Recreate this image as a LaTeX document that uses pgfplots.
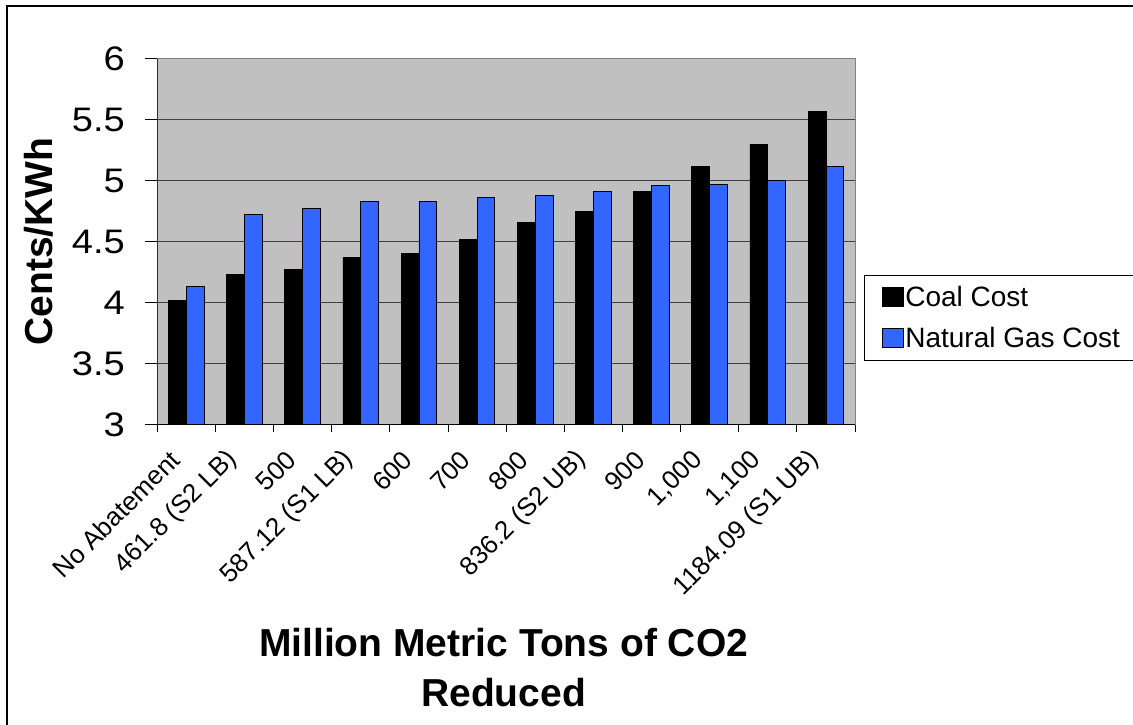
\documentclass[border=0pt]{standalone}
\usepackage{pgfplots}
\pgfplotsset{compat=1.18}
\usepackage{fontspec}
\setmainfont{Liberation Sans}
\newfontfamily\tickfont[FakeStretch=1.12]{Liberation Sans}
\definecolor{plotbg}{HTML}{C0C0C0}
\definecolor{gasblue}{HTML}{3366FF}
\definecolor{bordergrey}{HTML}{808080}
\begin{document}
\begin{tikzpicture}
\path[use as bounding box] (-157.3pt,-300.7pt) rectangle (975.7pt,424.3pt);
\draw[line width=1.5pt] (-150.3pt,-310pt) -- (-150.3pt,418.3pt) -- (985pt,418.3pt);
\begin{axis}[
  scale only axis, width=697.7pt, height=365.3pt,
  at={(0pt,0pt)}, anchor=south west,
  ybar=0pt, bar width=17.8pt,
  xmin=-0.5, xmax=11.5, ymin=3, ymax=6,
  axis background/.style={fill=plotbg},
  axis line style={bordergrey, line width=1pt},
  ytick={3,3.5,4,4.5,5,5.5,6},
  xtick={0,...,11},
  xticklabels={No Abatement,461.8 (S2 LB),500,587.12 (S1 LB),600,700,800,836.2 (S2 UB),900,{1,000},{1,100},1184.09 (S1 UB)},
  minor xtick={-0.5,0.5,...,11.5},
  major x tick style={draw=none},
  tick align=outside, major tick length=12pt, minor tick length=8pt,
  xtick pos=left, ytick pos=left,
  tick style={black, line width=1pt},
  ymajorgrids, major grid style={black!75, line width=1pt},
  /pgf/number format/assume math mode=true,
  yticklabel style={font=\tickfont\fontsize{34}{34}\selectfont, xshift=-17pt},
  xticklabel style={xshift=-9pt, yshift=-17pt, rotate=45, anchor=east, font=\fontsize{26}{26}\selectfont},
  xlabel={Million Metric Tons of CO2\\Reduced},
  xlabel style={font=\bfseries\fontsize{39}{50}\selectfont, align=center, at={(axis description cs:0.4963,-0.5576)}, anchor=north, inner sep=0pt},
  ylabel={Cents/KWh},
  ylabel style={font=\bfseries\fontsize{39}{39}\selectfont, at={(axis description cs:-0.1696,0.5)}, anchor=center, rotate=0},
  legend style={at={(1.0129,0.4087)}, anchor=north west, draw=black, line width=1pt, fill=white, font=\fontsize{28}{28}\selectfont, legend cell align=left, inner xsep=17pt, inner ysep=9pt, row sep=15pt},
]
\addplot[fill=black, draw=black, line width=0.8pt, legend image code/.code={\draw[fill=black, draw=black] (0pt,-9.5pt) rectangle (21pt,9.5pt);}] coordinates {
(0,4.02) (1,4.23) (2,4.27) (3,4.37) (4,4.40) (5,4.52) (6,4.66) (7,4.75) (8,4.91) (9,5.12) (10,5.30) (11,5.57)};
\addlegendentry{\makebox[230pt][l]{Coal Cost}}
\addplot[fill=gasblue, draw=black, line width=0.8pt, legend image code/.code={\draw[fill=gasblue, draw=black] (0pt,-9.5pt) rectangle (21pt,9.5pt);}] coordinates {
(0,4.13) (1,4.72) (2,4.77) (3,4.83) (4,4.83) (5,4.86) (6,4.88) (7,4.91) (8,4.96) (9,4.97) (10,5.00) (11,5.12)};
\addlegendentry{\makebox[230pt][l]{Natural Gas Cost}}
\draw[black, line width=1pt] (rel axis cs:0,1) -- (rel axis cs:0,0) -- (rel axis cs:1,0);
\end{axis}
\end{tikzpicture}
\end{document}
